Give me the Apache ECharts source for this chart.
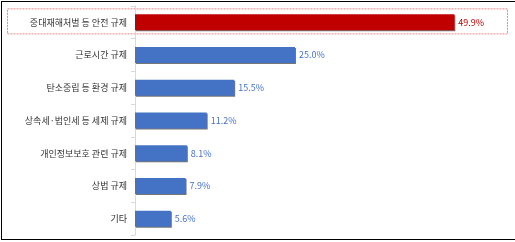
<!DOCTYPE html>
<html>
<head>
<meta charset="utf-8">
<script src="https://cdn.jsdelivr.net/npm/echarts@6/dist/echarts.min.js"></script>
<style>
  html, body {margin: 0; padding: 0; background: #fff;}
  #frame {position: absolute; left: 1px; top: 1px; width: 520px; height: 237px;
    border-left: 1px solid #000; border-top: 1px solid #000; border-bottom: 1px solid #000;}
  #chart {position: absolute; left: 0; top: 0; width: 515px; height: 242px;}
</style>
</head>
<body>
<div id="frame"></div>
<div id="chart"></div>
<script>
function $(id) {return document.getElementById(id)}

var categories = ['중대재해처벌 등 안전 규제', '근로시간 규제', '탄소중립 등 환경 규제', '상속세·법인세 등 세제 규제', '개인정보보호 관련 규제', '상법 규제', '기타'];
var values = [49.9, 25.0, 15.5, 11.2, 8.1, 7.9, 5.6];
var highlightIndex = 0;

var BLUE = '#4472C4';
var RED = '#C00000';
var FONT = '"Noto Sans CJK KR", sans-serif';

var chart = echarts.init($('chart'), null, {renderer: 'canvas'});
chart.setOption({
  animation: false,
  grid: {left: 135, right: 28, top: 6, bottom: 7, containLabel: false},
  xAxis: {
    type: 'value',
    min: 0,
    max: 55,
    show: false
  },
  yAxis: {
    type: 'category',
    inverse: true,
    data: categories,
    axisLine: {show: true, lineStyle: {color: '#d9d9d9', width: 1}},
    axisTick: {show: true, length: 4, lineStyle: {color: '#d9d9d9'}},
    axisLabel: {
      margin: 8,
      color: '#333',
      fontSize: 9,
      fontFamily: FONT
    }
  },
  series: [{
    type: 'bar',
    barWidth: 16,
    data: values.map(function (v, i) {
      var c = i === highlightIndex ? RED : BLUE;
      return {
        value: v,
        itemStyle: {color: c},
        label: {color: c}
      };
    }),
    itemStyle: {
      shadowColor: 'rgba(60,60,60,0.7)',
      shadowOffsetX: 1,
      shadowOffsetY: 1,
      shadowBlur: 0
    },
    label: {
      show: true,
      position: 'right',
      distance: 4,
      fontSize: 9,
      fontFamily: FONT,
      formatter: function (p) { return p.value.toFixed(1) + '%'; }
    }
  }]
});

// dashed highlight box round the first row
var yc = chart.convertToPixel({yAxisIndex: 0}, categories[highlightIndex]);
chart.setOption({
  graphic: [{
    type: 'rect',
    shape: {x: 7.5, y: yc - 13.5, width: 500, height: 25},
    style: {fill: null, stroke: '#e38a8a', lineWidth: 1, lineDash: [2, 1]},
    silent: true
  }]
});
</script>
</body>
</html>
